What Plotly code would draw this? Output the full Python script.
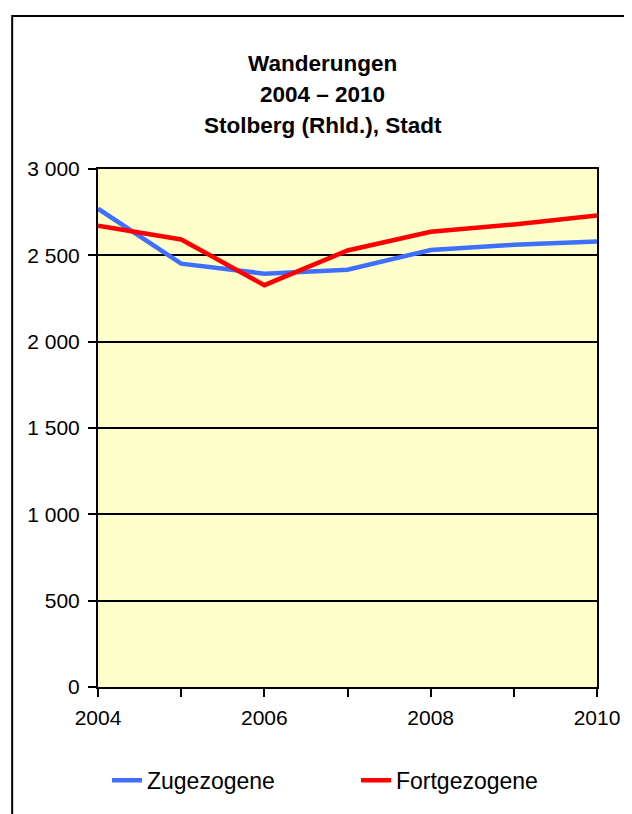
import plotly.graph_objects as go

# migration data
years = [2004, 2005, 2006, 2007, 2008, 2009, 2010]
zugezogene = [2770, 2452, 2394, 2417, 2531, 2561, 2580]
fortgezogene = [2672, 2592, 2327, 2528, 2636, 2679, 2731]
year_labels = ["2004", "", "2006", "", "2008", "", "2010"]
title_lines = ["Wanderungen", "2004 \u2013 2010", "Stolberg (Rhld.), Stadt"]

FONT = "Liberation Sans, Arial, sans-serif"

fig = go.Figure()
fig.add_trace(go.Scatter(x=years, y=zugezogene, mode="lines", name="Zugezogene",
                         line=dict(color="#3F6FFF", width=4.5)))
fig.add_trace(go.Scatter(x=years, y=fortgezogene, mode="lines", name="Fortgezogene",
                         line=dict(color="#FF0000", width=4.5)))

# three-line bold title, one annotation per line
for i, txt in enumerate(title_lines):
    fig.add_annotation(text="<b>%s</b>" % txt, xref="paper", yref="paper",
                       x=0.4506, y=[1.204, 1.1445, 1.0848][i],
                       xanchor="center", yanchor="middle", showarrow=False,
                       font=dict(family=FONT, size=22.5, color="black"))

# outer chart frame
fig.add_shape(type="rect", xref="paper", yref="paper",
              x0=-0.172, x1=1.08, y0=-0.28, y1=1.2955,
              line=dict(color="black", width=2), layer="below")

# page body has an 8px margin, so the figure is a bit smaller and shifted
fig.update_layout(
    width=624, height=806,
    margin=dict(l=90, r=25, t=161, b=121),
    paper_bgcolor="white",
    plot_bgcolor="#FFFFCC",
    separators=", ",
    font=dict(family=FONT, size=21, color="black"),
    showlegend=True,
    legend=dict(orientation="h", x=0.018, y=-0.18, xanchor="left", yanchor="middle",
                font=dict(family=FONT, size=23, color="black"),
                entrywidth=204, entrywidthmode="pixels",
                bgcolor="rgba(0,0,0,0)"),
)
fig.update_xaxes(range=[2004, 2010], tickvals=years, ticktext=year_labels,
                 ticks="outside", ticklen=8, tickwidth=2, tickcolor="black",
                 showline=True, linecolor="black", linewidth=2, mirror=True,
                 showgrid=False, zeroline=False, ticklabelstandoff=3,
                 tickfont=dict(size=21))
fig.update_yaxes(range=[0, 3000], dtick=500, tickformat=",d",
                 ticks="outside", ticklen=8, tickwidth=2, tickcolor="black",
                 showline=True, linecolor="black", linewidth=2, mirror=True,
                 showgrid=True, gridcolor="black", gridwidth=2, zeroline=False,
                 ticklabelstandoff=4, tickfont=dict(size=21))

fig.write_html("out.html")
